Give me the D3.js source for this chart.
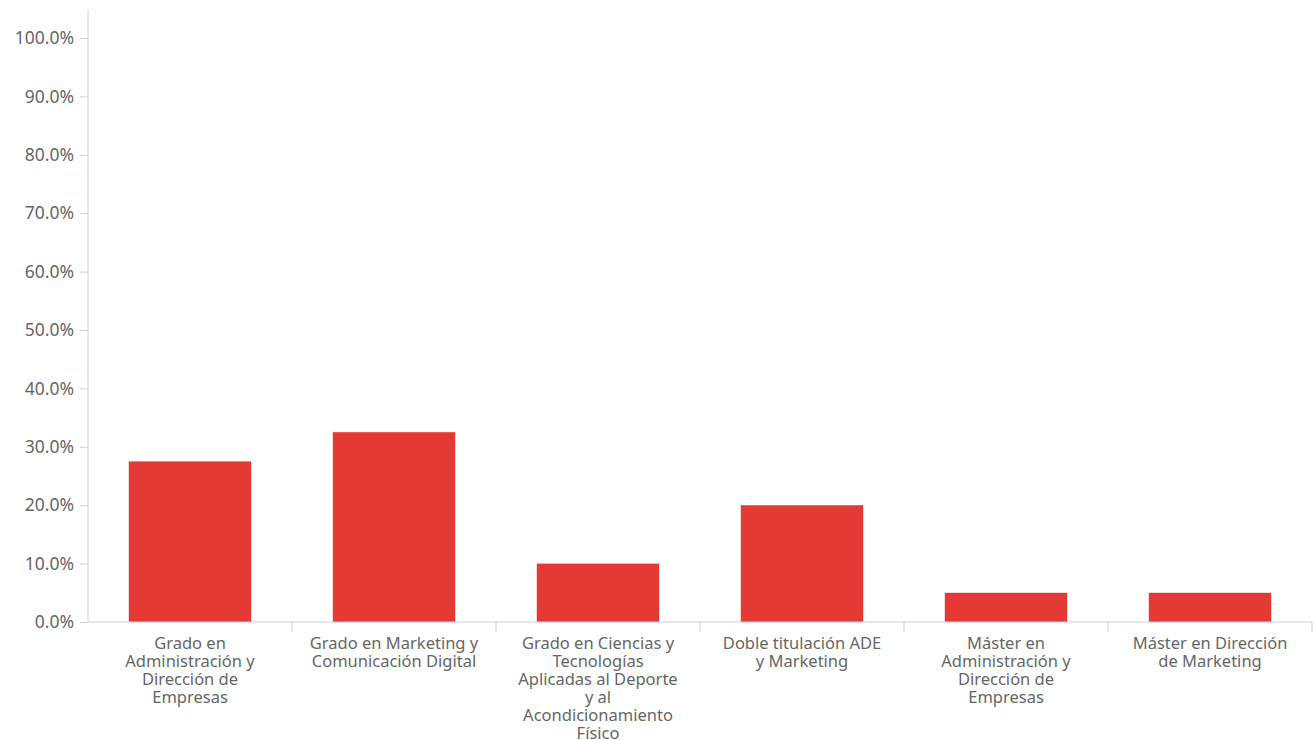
<!DOCTYPE html>
<html>
<head>
<meta charset="utf-8">
<script src="https://cdn.jsdelivr.net/npm/d3@7"></script>
<style>
  body { margin: 0; background: #fff; }
  svg text { font-family: "Noto Sans", sans-serif; fill: #666; }
</style>
</head>
<body>
<div id="chart"></div>
<script>
// categories (line breaks as they appear under the axis)
const categories = [
  "Grado en\nAdministración y\nDirección de\nEmpresas",
  "Grado en Marketing y\nComunicación Digital",
  "Grado en Ciencias y\nTecnologías\nAplicadas al Deporte\ny al\nAcondicionamiento\nFísico",
  "Doble titulación ADE\ny Marketing",
  "Máster en\nAdministración y\nDirección de\nEmpresas",
  "Máster en Dirección\nde Marketing"
];
const values = [0.275, 0.325, 0.10, 0.20, 0.05, 0.05];
const yTicks = [0, 0.1, 0.2, 0.3, 0.4, 0.5, 0.6, 0.7, 0.8, 0.9, 1.0];

const width = 1314, height = 740;
const margin = { top: 10, left: 88, right: 2, bottom: 118 };

const svg = d3.select("#chart").append("svg")
  .attr("width", width)
  .attr("height", height);

const x = d3.scaleBand()
  .domain(categories)
  .range([margin.left, width - margin.right])
  .paddingInner(0.4)
  .paddingOuter(0.2);

const y = d3.scaleLinear()
  .domain([0, 1])
  .range([622, 38]);

// bars
svg.append("g")
  .selectAll("rect")
  .data(values)
  .enter()
  .append("rect")
  .attr("x", (d, i) => x(categories[i]))
  .attr("y", d => y(d))
  .attr("width", x.bandwidth())
  .attr("height", d => y(0) - y(d))
  .attr("fill", "#e53935");

// y axis
const yAxis = svg.append("g")
  .attr("transform", `translate(${margin.left},0)`)
  .call(d3.axisLeft(y).tickValues(yTicks).tickFormat(d3.format(".1%")).tickSize(8).tickPadding(6));
yAxis.select(".domain").remove();
yAxis.append("line")
  .attr("x1", 0).attr("x2", 0)
  .attr("y1", margin.top).attr("y2", y(0))
  .attr("stroke", "#d0d0d0");
yAxis.selectAll(".tick line").attr("stroke", "#d0d0d0");
yAxis.selectAll(".tick text").attr("font-size", 17.5).style("fill", "#666");

// x axis: line + ticks at band boundaries
const xg = svg.append("g");
xg.append("line")
  .attr("x1", margin.left).attr("x2", width - margin.right)
  .attr("y1", y(0)).attr("y2", y(0))
  .attr("stroke", "#d0d0d0");
const step = x.step();
const boundaries = categories.map(c => x(c) + x.bandwidth() + step * 0.2);
xg.selectAll("line.tick")
  .data(boundaries)
  .enter()
  .append("line")
  .attr("class", "tick")
  .attr("x1", d => d).attr("x2", d => d)
  .attr("y1", y(0)).attr("y2", y(0) + 10)
  .attr("stroke", "#d0d0d0");

// x labels
const labels = xg.selectAll("text.lbl")
  .data(categories)
  .enter()
  .append("text")
  .attr("class", "lbl")
  .attr("text-anchor", "middle")
  .attr("font-size", 16.5)
  .attr("transform", d => `translate(${x(d) + x.bandwidth() / 2},${y(0) + 27})`);
labels.each(function(d) {
  const t = d3.select(this);
  d.split("\n").forEach((line, k) => {
    t.append("tspan").attr("x", 0).attr("y", k * 18).text(line);
  });
});
</script>
</body>
</html>
